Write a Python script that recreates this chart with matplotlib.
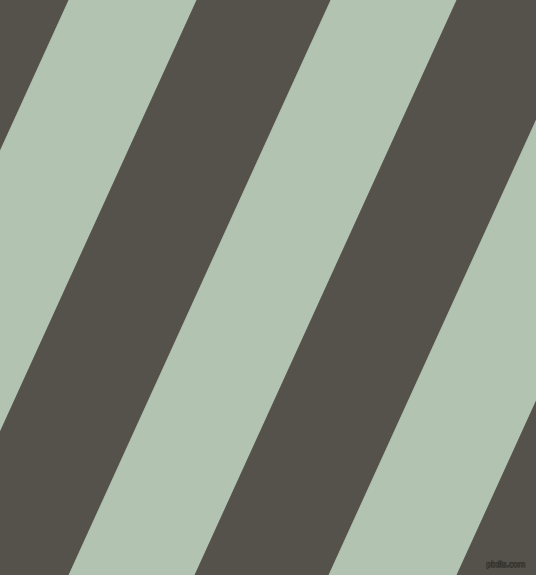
import matplotlib
matplotlib.use("Agg")
import matplotlib.pyplot as plt
import matplotlib.patheffects as pe

W, H = 536, 575
# stripe edges measured along the top row (x at y=0), and their colours
stripe_starts = [-327, -193, -65, 69, 197, 331, 457, 591, 719]
stripe_ends   = [-193, -65, 69, 197, 331, 457, 591, 719, 853]
stripe_colors = ["#55524b", "#b2c3b1", "#55524b", "#b2c3b1",
                 "#55524b", "#b2c3b1", "#55524b", "#b2c3b1", "#55524b"]
shift_over_height = 262  # horizontal drift of each edge from top to bottom
watermark = "pixlis.com"

fig = plt.figure(figsize=(W / 100, H / 100), dpi=100)
fig.patch.set_facecolor("#55524b")
ax = fig.add_axes([0, 0, 1, 1])
ax.set_xlim(0, W)
ax.set_ylim(H, 0)
ax.axis("off")

k = shift_over_height / H
for s, e, c in zip(stripe_starts, stripe_ends, stripe_colors):
    xs = [s, e, e - k * H, s - k * H]
    ys = [0, 0, H, H]
    ax.fill(xs, ys, color=c, linewidth=0.6, edgecolor=c, antialiased=True)

ax.text(506, 564.5, watermark, fontsize=5.6, color="#4a4741",
        ha="center", va="center", family="DejaVu Sans",
        path_effects=[pe.withStroke(linewidth=1.0, foreground="#35332e")])

fig.savefig("out.png", dpi=100, facecolor=fig.get_facecolor())
